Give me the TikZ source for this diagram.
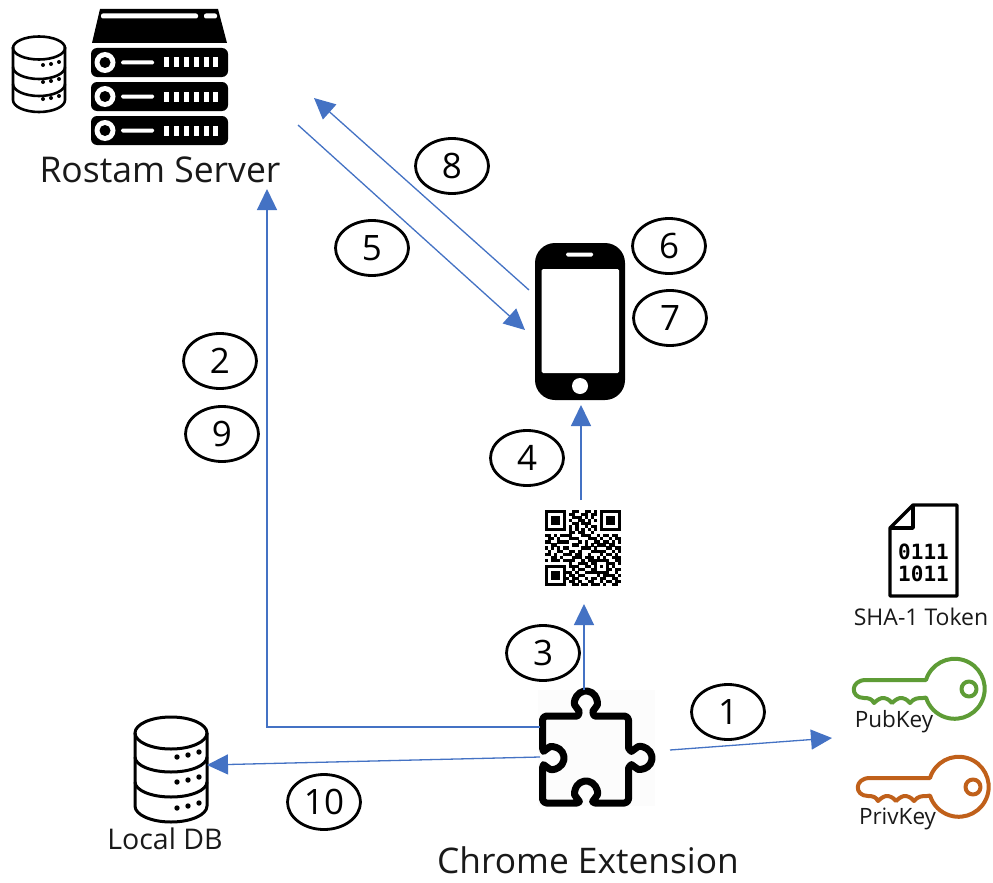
\documentclass[tikz,border=0pt]{standalone}
\usepackage{fontspec}
\setmainfont{Open Sans}
\newfontfamily\monob{DejaVu Sans Mono}
\usetikzlibrary{arrows.meta,shapes.geometric}
\definecolor{linkblue}{HTML}{4472C4}
\definecolor{keygreen}{HTML}{5E9C36}
\definecolor{keyorange}{HTML}{C0601A}
\newcount\qx \newcount\qy
\def\qrbit#1{\ifx#1;\let\next\relax\else\if1#1\fill[black] ({545+3.04*\the\qx},{-510-3.04*\the\qy}) rectangle ++(3.1,-3.1);\fi\global\advance\qx by 1 \let\next\qrbit\fi\next}
\def\qrrow#1{\global\qx=0 \qrbit#1;\global\advance\qy by 1 }
\tikzset{
  stepnum/.style={draw=black,line width=2.8pt,ellipse,minimum width=73pt,minimum height=55pt,inner sep=0pt,font=\fontsize{35}{38}\selectfont},
  link/.style={draw=linkblue,line width=1.3pt,-{Triangle[length=21pt,width=20pt]}},
  caption/.style={inner sep=0pt,text=black!90,anchor=base},
  keyline/.style={line width=4pt,line join=round,line cap=round}
}
\newcommand{\keyicon}[2]{%
  \begin{scope}[shift={(#1)}]
   \draw[keyline,draw=#2] (-91,9) -- (-31,9) arc[start angle=163,end angle=-163,radius=30]
     -- (-34,-9) .. controls (-39,-9) and (-43,-9) .. (-47,-14) .. controls (-50,-10) and (-54,-9) .. (-56,-9)
     .. controls (-58,-9) and (-61,-10) .. (-65,-14) .. controls (-68,-10) and (-72,-9) .. (-74,-9)
     .. controls (-76,-9) and (-79,-10) .. (-83,-14) .. controls (-85,-10) and (-88,-9) .. (-93,-9)
     .. controls (-107,-9) and (-107,9) .. (-91,9) -- cycle;
   \draw[keyline,draw=#2] (12,0) circle[radius=7.5];
  \end{scope}
}
\begin{document}
\begin{tikzpicture}[x=1pt,y=1pt]
\useasboundingbox (0,-883) rectangle (993,0);
\fill[white] (0,-883) rectangle (993,0);

% ---- server
\fill[black] (100,-9) -- (218,-9) -- (227,-43) -- (92,-43) -- cycle;
\fill[white,rounded corners=2pt] (101,-13.5) rectangle (198,-18.5);
\fill[white,rounded corners=2pt] (204,-13.5) rectangle (217,-18.5);
\foreach \yy in {48,82,116}{
  \fill[black,rounded corners=6pt] (91,-\yy) rectangle (228,-\yy-29);
  \fill[white] (105,-\yy-14.5) circle[radius=10.5];
  \fill[black] (105,-\yy-14.5) circle[radius=5.5];
  \fill[white,rounded corners=1.5pt] (121,-\yy-12.5) rectangle (154,-\yy-16.5);
  \foreach \tx in {163.5,173.5,183.5,193.5,203.5,213}{
    \fill[white] (\tx,-\yy-9.5) rectangle ++(5,-10);
  }
}
% ---- small database
\begin{scope}[line width=2.6pt]
\draw (13,-47) -- (13,-100) arc[start angle=180,end angle=360,x radius=26,y radius=12] -- (65,-47);
\draw (39,-48) ellipse[x radius=26,y radius=11.5];
\draw (13,-67) arc[start angle=180,end angle=360,x radius=26,y radius=12];
\draw (13,-84) arc[start angle=180,end angle=360,x radius=26,y radius=12];
\foreach \yy in {0,17,34}{
  \fill (43,-65-\yy) circle[radius=2];
  \fill (51,-64-\yy) circle[radius=2];
  \fill (59,-62-\yy) circle[radius=2];
}
\end{scope}
% ---- local database
\begin{scope}[line width=3pt]
\draw (135,-733) -- (135,-806) arc[start angle=180,end angle=360,x radius=36,y radius=16] -- (207,-733);
\draw (171,-733) ellipse[x radius=36,y radius=16];
\draw (135,-757) arc[start angle=180,end angle=360,x radius=36,y radius=15];
\draw (135,-782) arc[start angle=180,end angle=360,x radius=36,y radius=15];
\foreach \yy in {0,25,51}{
  \fill (177,-757-\yy) circle[radius=2.7];
  \fill (188,-755-\yy) circle[radius=2.7];
  \fill (199,-752-\yy) circle[radius=2.7];
}
\end{scope}
% ---- phone
\fill[black,rounded corners=20pt] (535,-243) rectangle (625,-400);
\fill[white,rounded corners=1.5pt] (541.5,-269) rectangle (619,-373);
\fill[white,rounded corners=1.5pt] (566,-252.5) rectangle (593,-256.5);
\fill[white] (580,-386) circle[radius=8];
% ---- QR code
\global\qy=0
\qrrow{1111111001100110101111111}
\qrrow{1000001011001101101000001}
\qrrow{1011101001110101001011101}
\qrrow{1011101010011010101011101}
\qrrow{1011101001101110001011101}
\qrrow{1000001010100101101000001}
\qrrow{1111111010101010101111111}
\qrrow{0000000011011001000000000}
\qrrow{1101011110001110010110110}
\qrrow{0110100011100011101001011}
\qrrow{1100111100010100110110101}
\qrrow{0011000001100101011101100}
\qrrow{1010101100001110100011011}
\qrrow{0100110011010001111100101}
\qrrow{1101001110110010001011010}
\qrrow{0011010001110111010100111}
\qrrow{1011101111001011111110011}
\qrrow{0000000010011101100011101}
\qrrow{1111111011100110101010100}
\qrrow{1000001001011001100011011}
\qrrow{1011101110100111111110010}
\qrrow{1011101011011000010111101}
\qrrow{1011101101100101101100110}
\qrrow{1000001011010011001011011}
\qrrow{1111111001101101110100110}
% ---- puzzle piece
\fill[black!1] (538,-690) rectangle (655,-806);
\draw[line width=7pt,line join=round,rounded corners=4pt]
  (542.5,-716) -- (573,-716) .. controls (579,-716) and (579,-711) .. (577,-708.3)
  arc[start angle=215,end angle=-35,radius=11]
  .. controls (593,-711) and (593,-716) .. (599,-716) -- (628.5,-716) -- (628.5,-744)
  .. controls (628.5,-750) and (632,-751) .. (634.7,-749)
  arc[start angle=125,end angle=-125,radius=11]
  .. controls (632,-765) and (628.5,-766) .. (628.5,-772) -- (628.5,-803) -- (599,-803)
  .. controls (593,-803) and (593,-801) .. (595,-798.3)
  arc[start angle=-35,end angle=215,radius=11]
  .. controls (579,-801) and (579,-803) .. (573,-803) -- (542.5,-803) -- (542.5,-772)
  .. controls (542.5,-766) and (544,-765) .. (546.7,-767)
  arc[start angle=-125,end angle=125,radius=11]
  .. controls (544,-751) and (542.5,-750) .. (542.5,-744) -- cycle;
% ---- token document
\draw[line width=3.4pt,line join=round] (913,-505) -- (957,-505) -- (957,-596) -- (890,-596) -- (890,-528) -- cycle;
\draw[line width=3.4pt,line join=round] (913,-505) -- (913,-528) -- (890,-528);
\node[font=\monob\bfseries\fontsize{21}{21}\selectfont,inner sep=0pt] (bits1) at (923.5,-552) {0111};
\node[font=\monob\bfseries\fontsize{21}{21}\selectfont,inner sep=0pt] (bits2) at (923.5,-574) {1011};
% ---- keys
\keyicon{957,-689}{keygreen}
\keyicon{961,-787}{keyorange}

% ---- captions
\node[caption,font=\fontsize{35.5}{38}\selectfont] (server) at (160,-182) {Rostam Server};
\node[caption,font=\fontsize{35.3}{38}\selectfont] (chrome) at (588,-873) {Chrome Extension};
\node[caption,font=\fontsize{28.5}{32}\selectfont] (localdb) at (165,-849) {Local DB};
\node[caption,font=\fontsize{23}{28}\selectfont] (sha) at (921,-625) {SHA-1 Token};
\node[caption,font=\fontsize{22.5}{26}\selectfont] (pub) at (894,-727) {PubKey};
\node[caption,font=\fontsize{22.5}{26}\selectfont] (priv) at (897.5,-824) {PrivKey};

% ---- step numbers
\node[stepnum] (s8) at (452,-166) {8};
\node[stepnum] (s5) at (372,-248) {5};
\node[stepnum] (s6) at (669,-246) {6};
\node[stepnum] (s7) at (670,-318) {7};
\node[stepnum] (s2) at (220,-361) {2};
\node[stepnum] (s9) at (222,-434) {9};
\node[stepnum] (s4) at (527,-458) {4};
\node[stepnum] (s3) at (543,-653) {3};
\node[stepnum] (s1) at (728,-712) {1};
\node[stepnum] (s10) at (324,-802) {10};

% ---- connector ends
\coordinate (serverIn) at (314,-98);
\coordinate (serverOut) at (298,-125);
\coordinate (serverBottom) at (267,-189);
\coordinate (phoneOut) at (529,-290);
\coordinate (phoneIn) at (525,-330);
\coordinate (phoneBottom) at (581,-405);
\coordinate (qrTop) at (581,-500);
\coordinate (qrBottom) at (584,-604);
\coordinate (extTop) at (584,-690);
\coordinate (extLeftA) at (540,-727);
\coordinate (extLeftB) at (540,-757);
\coordinate (extRight) at (670,-750);
\coordinate (keysIn) at (832,-738);
\coordinate (dbIn) at (207,-765);

\draw[link] (phoneOut) -- (serverIn);
\draw[link] (serverOut) -- (phoneIn);
\draw[link] (extLeftA) -- (serverBottom |- extLeftA) -- (serverBottom);
\draw[link] (qrTop) -- (phoneBottom);
\draw[link] (extTop) -- (qrBottom);
\draw[link] (extRight) -- (keysIn);
\draw[link] (extLeftB) -- (dbIn);
\end{tikzpicture}
\end{document}
